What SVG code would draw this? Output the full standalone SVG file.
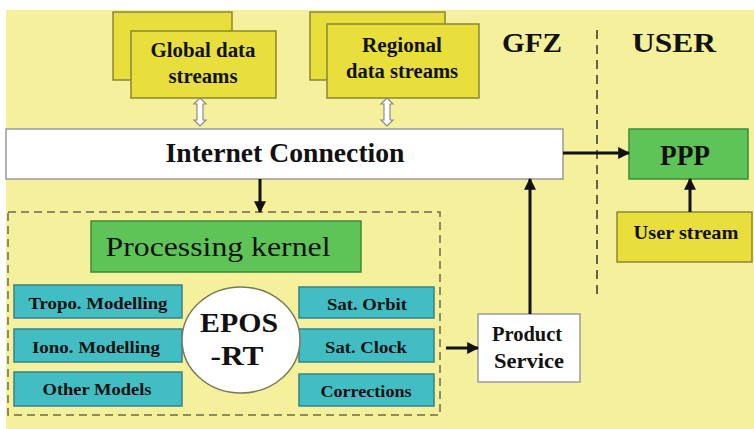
<svg xmlns="http://www.w3.org/2000/svg" width="754" height="429" viewBox="0 0 754 429" font-family="Liberation Serif, Times New Roman, DejaVu Serif, serif">
<defs>
<style>
text{font-weight:bold;fill:#111;text-anchor:middle}
.yel{fill:#e8df3c;stroke:#8b8633;stroke-width:1.5}
.grn{fill:#5fc457;stroke:#3e8a38;stroke-width:1.5}
.cyn{fill:#41bdc3;stroke:#3a8188;stroke-width:1.5}
.wht{fill:#fff;stroke:#9a9a9a;stroke-width:1.5}
.arr{stroke:#111;stroke-width:3;fill:none;marker-end:url(#ah)}
.hol{fill:#fff;stroke:#8a8a8a;stroke-width:1.2}
.nb{font-weight:normal}
</style>
<marker id="ah" viewBox="0 0 10 10" refX="9" refY="5" markerWidth="4" markerHeight="4" orient="auto" markerUnits="strokeWidth">
<path d="M0,0 L10,5 L0,10 z" fill="#111"/>
</marker>
</defs>
<rect x="0" y="0" width="754" height="429" fill="#fff"/>
<rect x="6" y="10" width="748" height="419" fill="#f4f09c"/>

<g id="gfz-label"><text x="532" y="52" font-size="28" textLength="60" lengthAdjust="spacingAndGlyphs">GFZ</text></g>
<g id="user-label"><text x="674" y="52" font-size="28" textLength="84" lengthAdjust="spacingAndGlyphs">USER</text></g>
<line x1="597" y1="30" x2="597" y2="298" stroke="#333" stroke-width="1.5" stroke-dasharray="9,6"/>

<g id="dashed-box"><rect x="8" y="212" width="432" height="203" fill="none" stroke="#6e6a4e" stroke-width="1.5" stroke-dasharray="8,5"/></g>

<g id="global">
<rect class="yel" x="113" y="12" width="119" height="68"/>
<rect class="yel" x="131" y="31" width="145" height="67"/>
<text x="203" y="57" font-size="20" textLength="105" lengthAdjust="spacingAndGlyphs">Global data</text>
<text x="203" y="83" font-size="20" textLength="69" lengthAdjust="spacingAndGlyphs">streams</text>
</g>
<g id="regional">
<rect class="yel" x="310" y="12" width="135" height="68"/>
<rect class="yel" x="327" y="24" width="152" height="74"/>
<text x="402" y="52" font-size="20" textLength="80" lengthAdjust="spacingAndGlyphs">Regional</text>
<text x="402" y="78" font-size="20" textLength="112" lengthAdjust="spacingAndGlyphs">data streams</text>
</g>

<g id="internet">
<rect class="wht" x="6" y="129" width="557" height="50"/>
<text x="285" y="162" font-size="27" textLength="239" lengthAdjust="spacingAndGlyphs">Internet Connection</text>
</g>

<g id="ppp">
<rect class="grn" x="629" y="129" width="119" height="50"/>
<text x="685" y="165" font-size="30" textLength="50" lengthAdjust="spacingAndGlyphs">PPP</text>
</g>

<g id="user-stream">
<rect class="yel" x="617" y="212" width="135" height="50"/>
<text x="686" y="239" font-size="19" textLength="105" lengthAdjust="spacingAndGlyphs">User stream</text>
</g>

<g id="processing-kernel">
<rect class="grn" x="91" y="221" width="270" height="51"/>
<text class="nb" x="218" y="256" font-size="27" textLength="225" lengthAdjust="spacingAndGlyphs">Processing kernel</text>
</g>

<g id="tropo"><rect class="cyn" x="14" y="285" width="168" height="33"/>
<text x="98" y="309" font-size="17" textLength="139" lengthAdjust="spacingAndGlyphs">Tropo. Modelling</text></g>
<g id="iono"><rect class="cyn" x="14" y="329" width="168" height="33"/>
<text x="96" y="353" font-size="17" textLength="128" lengthAdjust="spacingAndGlyphs">Iono. Modelling</text></g>
<g id="other"><rect class="cyn" x="14" y="372" width="168" height="34"/>
<text x="97" y="395" font-size="17" textLength="109" lengthAdjust="spacingAndGlyphs">Other Models</text></g>

<g id="orbit"><rect class="cyn" x="299" y="287" width="135" height="31"/>
<text x="367" y="310" font-size="17" textLength="80" lengthAdjust="spacingAndGlyphs">Sat. Orbit</text></g>
<g id="clock"><rect class="cyn" x="299" y="329" width="135" height="33"/>
<text x="366" y="353" font-size="17" textLength="82" lengthAdjust="spacingAndGlyphs">Sat. Clock</text></g>
<g id="corrections"><rect class="cyn" x="299" y="374" width="135" height="32"/>
<text x="366" y="397" font-size="17" textLength="91" lengthAdjust="spacingAndGlyphs">Corrections</text></g>

<g id="epos">
<ellipse cx="241" cy="340" rx="59" ry="53" fill="#fff" stroke="#7a7a5a" stroke-width="1.5"/>
<text x="239" y="332" font-size="27" textLength="78" lengthAdjust="spacingAndGlyphs">EPOS</text>
<text x="237" y="365" font-size="27" textLength="53" lengthAdjust="spacingAndGlyphs">-RT</text>
</g>

<g id="product-service">
<rect class="wht" x="478" y="314" width="102" height="68"/>
<text x="527" y="341" font-size="20" textLength="70" lengthAdjust="spacingAndGlyphs">Product</text>
<text x="529" y="368" font-size="20" textLength="70" lengthAdjust="spacingAndGlyphs">Service</text>
</g>

<g id="connectors">
<polygon class="hol" points="200,98 206,104 203,104 203,120 206,120 200,126 194,120 197,120 197,104 194,104"/>
<polygon class="hol" points="387,98 393,104 390,104 390,120 393,120 387,126 381,120 384,120 384,104 381,104"/>
<line class="arr" x1="260" y1="179" x2="260" y2="212"/>
<line class="arr" x1="563" y1="153" x2="629" y2="153"/>
<line class="arr" x1="690" y1="212" x2="690" y2="179"/>
<line class="arr" x1="446" y1="348" x2="478" y2="348"/>
<line class="arr" x1="530" y1="314" x2="530" y2="179"/>
</g>
</svg>
